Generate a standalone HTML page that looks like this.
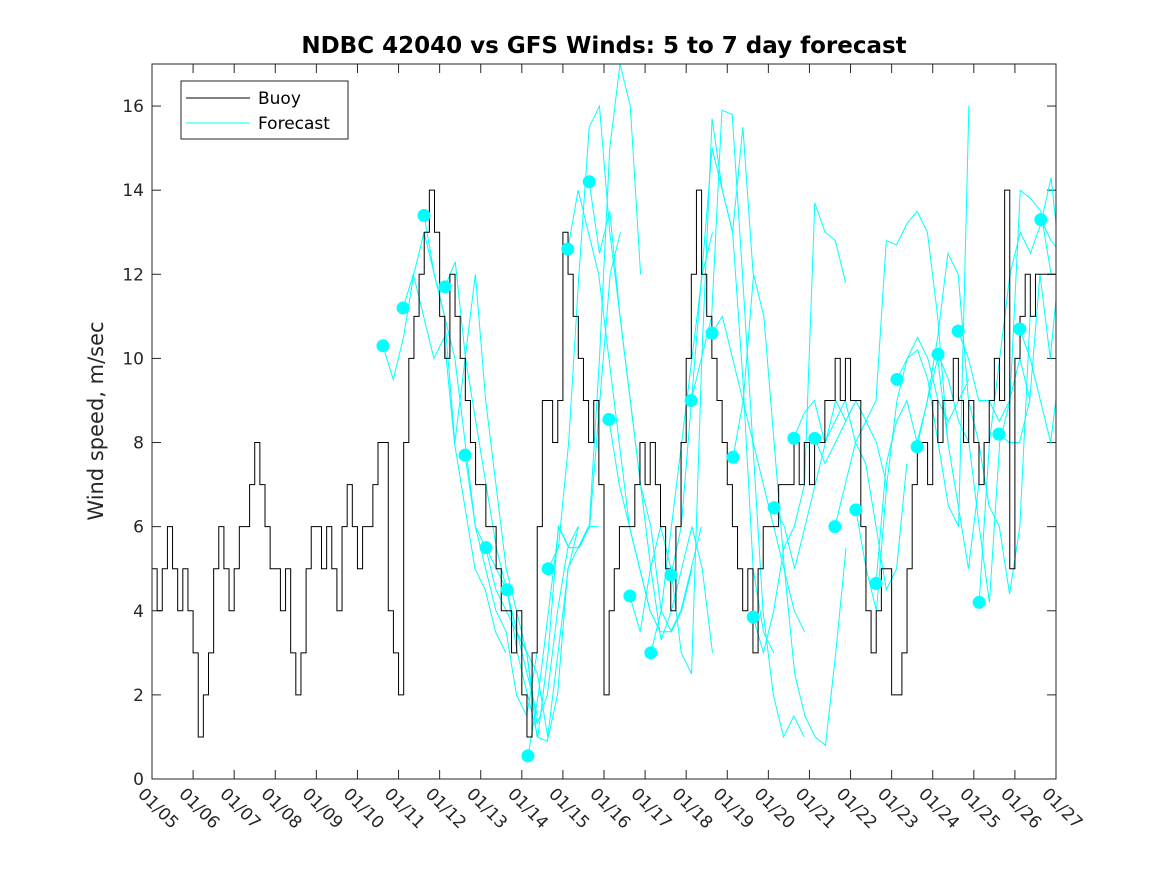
<!DOCTYPE html>
<html><head><meta charset="utf-8"><style>
body{margin:0;background:#fff;}
svg text{font-family:"DejaVu Sans","Liberation Sans",sans-serif;fill:#262626;}
</style></head><body>
<svg id="chart" width="1167" height="875" xmlns="http://www.w3.org/2000/svg">
<rect width="1167" height="875" fill="#fff"/>
<defs><clipPath id="clip"><rect x="152" y="64" width="904" height="715"/></clipPath></defs>
<text x="604" y="53" text-anchor="middle" font-size="23" font-weight="bold" style="fill:#000">NDBC 42040 vs GFS Winds: 5 to 7 day forecast</text>
<text transform="translate(103,421) rotate(-90)" text-anchor="middle" font-size="21">Wind speed, m/sec</text>
<g id="axes"></g>
<g id="plot" clip-path="url(#clip)"></g>
<g id="dots"></g>
<rect x="152" y="64" width="904" height="715" fill="none" stroke="#262626" stroke-width="1"/>
<g>
<rect x="181" y="81" width="167" height="58" fill="#fff" stroke="#262626"/>
<line x1="186" y1="98" x2="250" y2="98" stroke="#000"/>
<text x="258" y="104" font-size="17" style="fill:#000">Buoy</text>
<line x1="186" y1="123" x2="250" y2="123" stroke="#00ffff"/>
<text x="258" y="129" font-size="17" style="fill:#000">Forecast</text>
</g>
</svg>
<script>
const yTicks=[0,2,4,6,8,10,12,14,16];
const xTickLabels=["01/05","01/06","01/07","01/08","01/09","01/10","01/11","01/12","01/13","01/14","01/15","01/16","01/17","01/18","01/19","01/20","01/21","01/22","01/23","01/24","01/25","01/26","01/27"];
const buoyStartDay=5;
const buoy=[5,4,5,6,5,4,5,4, 3,1,2,3,5,6,5,4, 5,6,6,7,8,7,6,5, 5,4,5,3,2,3,5,6, 6,5,6,5,4,6,7,6, 5,6,6,7,8,8,4,3,
2,8,10,11,12,13,14,13, 11,10,12,11,10,9,8,7, 7,6,6,5,4,4,3,4, 2,1,3,6,9,9,8,9, 13,12,11,10,9,8,9,7, 2,4,5,6,6,6,7,8,
7,8,7,6,5,4,6,8, 10,12,14,12,11,10,9,8, 7,6,5,4,5,3,5,6, 6,6,7,7,7,8,7,8, 7,8,8,9,9,10,9,10, 9,9,6,4,3,4,5,5,
2,2,3,5,7,8,8,7, 9,8,9,9,10,9,8,9, 8,7,8,9,10,9,14,5, 10,11,12,11,12,12,12,12];
const forecastStarts=[10.62,11.62,12.62,13.64,14.64,15.64,16.63,17.63,18.12,19.14,19.63,20.62,21.62,22.13,22.62,23.62,24.13,25.13,25.61,26.12,26.63,
11.11,12.13,13.13,14.15,15.12,16.12,17.14,18.63,20.14,21.13,23.13,24.62];
const forecastValues=[
[10.3,9.5,10.5,12,13,12,11,10,8,6,5,4,3.5,2,1.5,3],
[13.4,12,11,8,10,12,9,7,5,4,3,1.3,2,4,5.5,6],
[7.7,6,5.5,4.5,4,3.5,3,1,0.9,2,5,5.5,6,6],
[4.5,3,2,1,3,6,5.5,5.5,6,10,15,17,16,12],
[5,5.5,8,12,15.5,16,13,11,9,7,6,4,3.5,4,5],
[14.2,12.5,13.5,11,9,7,5,3.3,4,5,6,5,3],
[4.35,3.5,5,6,5,3,2.5,10,15.7,14,13,15.5,12],
[4.85,6,9,12,15,14,13,9.5,5,3.5,3],
[9,10,11,15.9,15.8,12,8,4,2,1,1.5,1],
[7.65,9,12,11,8,5,2.5,1.5,1,0.8,3,5.5],
[3.85,3,4,5.5,6,7,13.7,13,12.8,11.8],
[8.1,8.7,9,8,8.5,9,8,7.5,6,4.5,5,7.5],
[6,7,8,8.5,9,12.8,12.7,13.2,13.5,13,11,8],
[6.4,5,4,7,9,10,10.2,9.5,8,6.5,6,16],
[4.65,7.5,8.5,9,8,9,10,8,6.5,5,7],
[7.9,9,10.5,12.5,12,9,8,6.5,6,4.4,6,11],
[10.1,9.5,8.5,8,6,4.2,8,9,14,13.8,13.5,12],
[4.2,8,10,12,13,12.5,13.2,14.3,12,10,8],
[8.2,8,8,9,12,10,12.5,13,13],
[10.7,10,9,8,10,12.5,13],
[13.3,12.8,12.5,13],
[11.2,12,11,10,10.5,8,6.5,5,4.5,3.5,3],
[11.7,12.3,10,8.5,7,5.5,4.5,3.5,2.5,1.5],
[5.5,5,4.5,3.5,3,2.5,1,3,5,6],
[0.55,2,4,6,5.5,5.5,6,9,12,13],
[12.6,14,13,12,10,8,6,5,4,3.5],
[8.55,7,6,5,4,3.5,3.5,4,5,6],
[3,4,6,8,10,12,13],
[10.6,11,10,9,8,7,6,5,4,3.5],
[6.45,6,5,6,7,8,9,8.5],
[8.1,7.5,8,8.5,9,8.5,8,7],
[9.5,10,10.5,10,9,8.5,9,9.5],
[10.65,10,9,9,8.5,9,10,9]];
const NS="http://www.w3.org/2000/svg";
const X=d=>152+(d-5)*(904/22);
const Y=v=>779-v*(715/17);
function mk(tag,attrs,parent){const e=document.createElementNS(NS,tag);for(const k in attrs)e.setAttribute(k,attrs[k]);parent.appendChild(e);return e;}
const axes=document.getElementById('axes'),plot=document.getElementById('plot'),dots=document.getElementById('dots');
yTicks.forEach(v=>{
 const t=mk('text',{x:144,y:Y(v)+6,'text-anchor':'end','font-size':17},axes);t.textContent=v;
 
 
 mk('line',{x1:152,x2:161,y1:Y(v),y2:Y(v),stroke:'#262626'},axes);
 mk('line',{x1:1047,x2:1056,y1:Y(v),y2:Y(v),stroke:'#262626'},axes);
});
xTickLabels.forEach((s,i)=>{
 const x=X(5+i);
 mk('line',{x1:x,x2:x,y1:779,y2:770,stroke:'#262626'},axes);
 mk('line',{x1:x,x2:x,y1:64,y2:73,stroke:'#262626'},axes);
 const t=mk('text',{transform:`translate(${x-15},${795}) rotate(45)`,'font-size':17},axes);t.textContent=s;
 
 
});
forecastStarts.forEach((s,i)=>{
 const pts=forecastValues[i].map((v,j)=>X(s+j*0.25)+','+Y(v)).join(' ');
 const p=mk('polyline',{points:pts,fill:'none',stroke:'#00ffff','stroke-width':1},plot);
 
 
});
let bp=[];
buoy.forEach((v,i)=>{const d0=buoyStartDay+i/8,d1=d0+1/8;bp.push(X(d0)+','+Y(v));bp.push(X(d1)+','+Y(v));});
const bl=mk('polyline',{points:bp.join(' '),fill:'none',stroke:'#000','stroke-width':1},plot);


forecastStarts.forEach((s,i)=>{
 const c=mk('circle',{cx:X(s),cy:Y(forecastValues[i][0]),r:6.5,fill:'#00ffff'},dots);
 
 
});
</script>
</body></html>
